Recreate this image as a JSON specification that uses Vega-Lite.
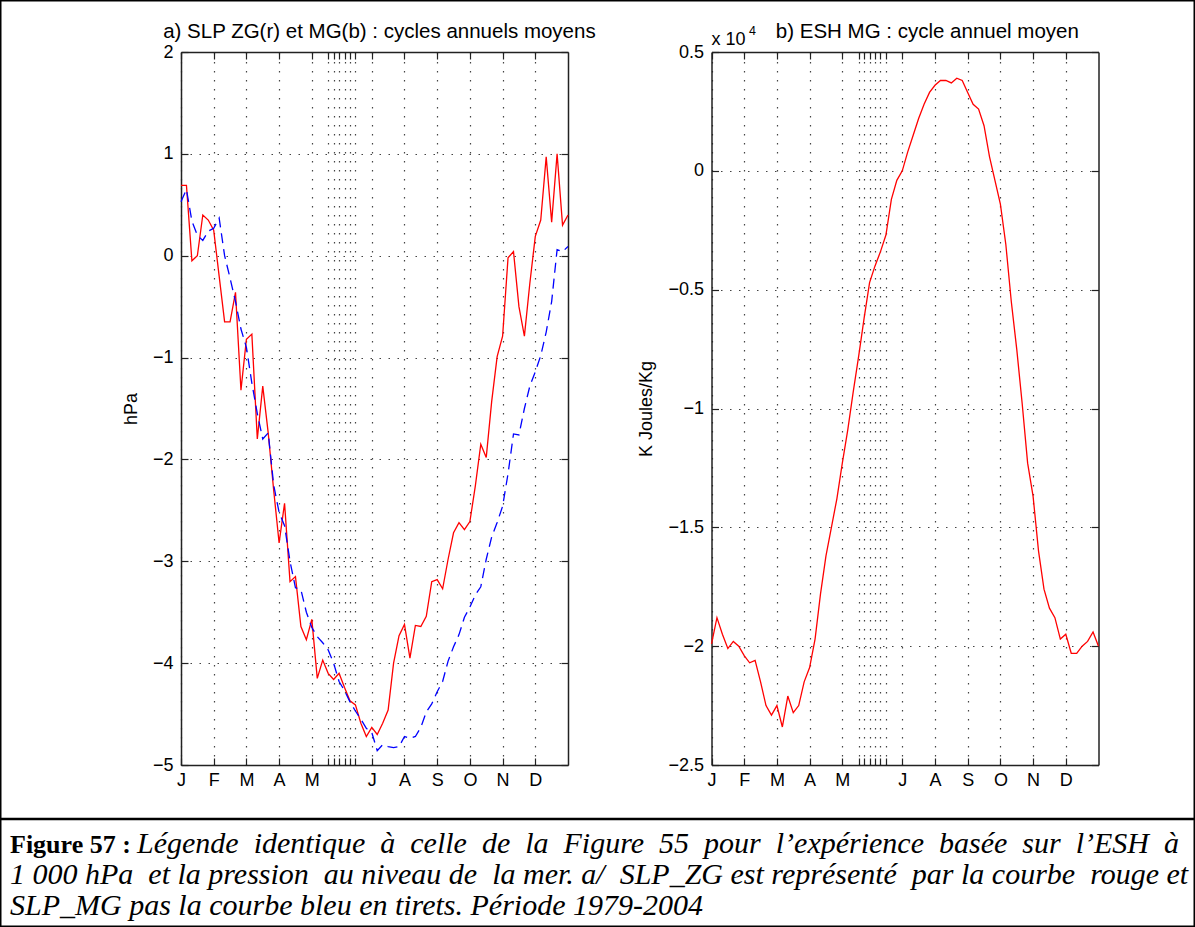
{
  "$schema": "https://vega.github.io/schema/vega-lite/v6.json",
  "width": 1195,
  "height": 927,
  "autosize": "none",
  "padding": 0,
  "background": "white",
  "config": {
    "view": {"stroke": "black", "strokeWidth": 3},
    "axis": {
      "labelFont": "Liberation Sans", "labelFontSize": 18, "labelColor": "black",
      "titleFont": "Liberation Sans", "titleFontSize": 18, "titleFontWeight": "normal", "titleColor": "black",
      "domainColor": "#222", "domainWidth": 1.5, "tickColor": "#222", "tickWidth": 1.2,
      "gridColor": "#444", "gridDash": [1.5, 7.5], "gridWidth": 1.2, "gridOpacity": 1,
      "labelOverlap": false, "labelFlush": false, "labelBound": false
    }
  },
  "datasets": {
    "zg": [
      {"p":0,"v":0.69},{"p":1,"v":0.69},{"p":2,"v":-0.05},{"p":3,"v":0.0},{"p":4,"v":0.40},{"p":5,"v":0.35},{"p":6,"v":0.25},{"p":7,"v":-0.2},{"p":8,"v":-0.65},{"p":9,"v":-0.65},
      {"p":10,"v":-0.36},{"p":11,"v":-1.32},{"p":12,"v":-0.82},{"p":13,"v":-0.77},{"p":14,"v":-1.80},{"p":15,"v":-1.28},{"p":16,"v":-1.74},{"p":17,"v":-2.3},{"p":18,"v":-2.82},{"p":19,"v":-2.43},
      {"p":20,"v":-3.2},{"p":21,"v":-3.15},{"p":22,"v":-3.64},{"p":23,"v":-3.77},{"p":24,"v":-3.57},{"p":25,"v":-4.15},{"p":26,"v":-3.97},{"p":27,"v":-4.10},{"p":28,"v":-4.16},{"p":29,"v":-4.10},
      {"p":30,"v":-4.24},{"p":31,"v":-4.37},{"p":32,"v":-4.41},{"p":33,"v":-4.59},{"p":34,"v":-4.72},{"p":35,"v":-4.63},{"p":36,"v":-4.70},{"p":37,"v":-4.59},{"p":38,"v":-4.46},{"p":39,"v":-4.00},
      {"p":40,"v":-3.73},{"p":41,"v":-3.62},{"p":42,"v":-3.95},{"p":43,"v":-3.63},{"p":44,"v":-3.64},{"p":45,"v":-3.54},{"p":46,"v":-3.20},{"p":47,"v":-3.18},{"p":48,"v":-3.27},{"p":49,"v":-2.98},
      {"p":50,"v":-2.72},{"p":51,"v":-2.62},{"p":52,"v":-2.69},{"p":53,"v":-2.61},{"p":54,"v":-2.26},{"p":55,"v":-1.85},{"p":56,"v":-1.98},{"p":57,"v":-1.43},{"p":58,"v":-0.99},{"p":59,"v":-0.79},
      {"p":60,"v":-0.02},{"p":61,"v":0.04},{"p":62,"v":-0.50},{"p":63,"v":-0.79},{"p":64,"v":-0.27},{"p":65,"v":0.19},{"p":66,"v":0.35},{"p":67,"v":0.97},{"p":68,"v":0.33},{"p":69,"v":1.0},
      {"p":70,"v":0.3},{"p":71,"v":0.4}
    ],
    "mg": [
      {"p":0,"v":0.53},{"p":1,"v":0.65},{"p":2,"v":0.34},{"p":3,"v":0.2},{"p":4,"v":0.15},{"p":5,"v":0.24},{"p":6,"v":0.27},{"p":7,"v":0.37},{"p":8,"v":0.0},{"p":9,"v":-0.22},
      {"p":10,"v":-0.45},{"p":11,"v":-0.72},{"p":12,"v":-0.9},{"p":13,"v":-1.25},{"p":14,"v":-1.55},{"p":15,"v":-1.8},{"p":16,"v":-1.74},{"p":17,"v":-2.25},{"p":18,"v":-2.52},{"p":19,"v":-2.65},
      {"p":20,"v":-3.0},{"p":21,"v":-3.26},{"p":22,"v":-3.28},{"p":23,"v":-3.5},{"p":24,"v":-3.65},{"p":25,"v":-3.74},{"p":26,"v":-3.80},{"p":27,"v":-3.87},{"p":28,"v":-4.0},{"p":29,"v":-4.18},
      {"p":30,"v":-4.27},{"p":31,"v":-4.38},{"p":32,"v":-4.47},{"p":33,"v":-4.55},{"p":34,"v":-4.64},{"p":35,"v":-4.68},{"p":36,"v":-4.86},{"p":37,"v":-4.80},{"p":38,"v":-4.82},{"p":39,"v":-4.83},
      {"p":40,"v":-4.82},{"p":41,"v":-4.72},{"p":42,"v":-4.74},{"p":43,"v":-4.72},{"p":44,"v":-4.63},{"p":45,"v":-4.48},{"p":46,"v":-4.40},{"p":47,"v":-4.28},{"p":48,"v":-4.18},{"p":49,"v":-3.98},
      {"p":50,"v":-3.84},{"p":51,"v":-3.72},{"p":52,"v":-3.55},{"p":53,"v":-3.45},{"p":54,"v":-3.33},{"p":55,"v":-3.25},{"p":56,"v":-2.98},{"p":57,"v":-2.76},{"p":58,"v":-2.62},{"p":59,"v":-2.46},
      {"p":60,"v":-2.14},{"p":61,"v":-1.75},{"p":62,"v":-1.76},{"p":63,"v":-1.5},{"p":64,"v":-1.28},{"p":65,"v":-1.14},{"p":66,"v":-0.98},{"p":67,"v":-0.75},{"p":68,"v":-0.45},{"p":69,"v":0.06},
      {"p":70,"v":0.04},{"p":71,"v":0.09}
    ],
    "esh": [
      {"p":0,"v":-1.99},{"p":1,"v":-1.88},{"p":2,"v":-1.95},{"p":3,"v":-2.01},{"p":4,"v":-1.98},{"p":5,"v":-2.0},{"p":6,"v":-2.04},{"p":7,"v":-2.07},{"p":8,"v":-2.06},{"p":9,"v":-2.15},
      {"p":10,"v":-2.25},{"p":11,"v":-2.29},{"p":12,"v":-2.25},{"p":13,"v":-2.34},{"p":14,"v":-2.21},{"p":15,"v":-2.28},{"p":16,"v":-2.25},{"p":17,"v":-2.15},{"p":18,"v":-2.09},{"p":19,"v":-1.97},
      {"p":20,"v":-1.78},{"p":21,"v":-1.62},{"p":22,"v":-1.50},{"p":23,"v":-1.38},{"p":24,"v":-1.23},{"p":25,"v":-1.09},{"p":26,"v":-0.93},{"p":27,"v":-0.78},{"p":28,"v":-0.62},{"p":29,"v":-0.47},
      {"p":30,"v":-0.40},{"p":31,"v":-0.34},{"p":32,"v":-0.27},{"p":33,"v":-0.12},{"p":34,"v":-0.04},{"p":35,"v":0.0},{"p":36,"v":0.08},{"p":37,"v":0.15},{"p":38,"v":0.22},{"p":39,"v":0.28},
      {"p":40,"v":0.33},{"p":41,"v":0.36},{"p":42,"v":0.38},{"p":43,"v":0.38},{"p":44,"v":0.37},{"p":45,"v":0.39},{"p":46,"v":0.38},{"p":47,"v":0.33},{"p":48,"v":0.28},{"p":49,"v":0.26},
      {"p":50,"v":0.19},{"p":51,"v":0.06},{"p":52,"v":-0.04},{"p":53,"v":-0.14},{"p":54,"v":-0.31},{"p":55,"v":-0.55},{"p":56,"v":-0.75},{"p":57,"v":-0.98},{"p":58,"v":-1.23},{"p":59,"v":-1.37},
      {"p":60,"v":-1.60},{"p":61,"v":-1.76},{"p":62,"v":-1.84},{"p":63,"v":-1.88},{"p":64,"v":-1.97},{"p":65,"v":-1.95},{"p":66,"v":-2.03},{"p":67,"v":-2.03},{"p":68,"v":-2.00},{"p":69,"v":-1.98},
      {"p":70,"v":-1.94},{"p":71,"v":-2.0}
    ],
    "caption": [
      {"row": 1, "part": "b", "text": "Figure 57 :"},
      {"row": 1, "part": "i1", "text": "Légende\u00a0 identique\u00a0 à\u00a0 celle\u00a0 de\u00a0 la\u00a0 Figure\u00a0 55\u00a0 pour\u00a0 l’expérience\u00a0 basée\u00a0 sur\u00a0 l’ESH\u00a0 à"},
      {"row": 2, "part": "i", "text": "1 000 hPa\u00a0 et la pression\u00a0 au niveau de\u00a0 la mer. a/\u00a0 SLP_ZG est représenté\u00a0 par la courbe\u00a0 rouge et"},
      {"row": 3, "part": "i", "text": "SLP_MG pas la courbe bleu en tirets. Période 1979-2004"}
    ],
    "one": [{"k": 1}]
  },
  "resolve": {"scale": {"x": "independent", "y": "independent"}, "axis": {"x": "independent", "y": "independent"}},
  "layer": [
    {
      "resolve": {"axis": {"x": "independent", "y": "independent"}},
      "layer": [
        {
          "data": {"name": "zg"},
          "mark": {"type": "line", "color": "#ff0000", "strokeWidth": 1.3},
          "encoding": {
            "x": {"field": "p", "type": "quantitative",
              "scale": {"domain": [0, 71], "range": [181, 568], "nice": false, "zero": false},
              "axis": {"orient": "bottom", "offset": -162, "values": [0,6,12,18,24,27,28,29,30,31,32,35,41,47,53,59,65],
                "labelExpr": "datum.value == 0 ? 'J' : datum.value == 6 ? 'F' : datum.value == 12 ? 'M' : datum.value == 18 ? 'A' : datum.value == 24 ? 'M' : datum.value == 35 ? 'J' : datum.value == 41 ? 'A' : datum.value == 47 ? 'S' : datum.value == 53 ? 'O' : datum.value == 59 ? 'N' : datum.value == 65 ? 'D' : ''",
                "title": null, "grid": false, "tickSize": -7, "labelPadding": 13, "labelAngle": 0, "labelAlign": "center", "labelBaseline": "top"}},
            "y": {"field": "v", "type": "quantitative",
              "scale": {"domain": [-5, 2], "range": [765, 52], "nice": false, "zero": false},
              "axis": {"orient": "left", "offset": -181, "values": [-5,-4,-3,-2,-1,0,1,2], "format": "d",
                "title": "hPa", "titlePadding": 12, "grid": true, "tickSize": -7, "labelPadding": 15}}
          }
        },
        {
          "data": {"name": "mg"},
          "mark": {"type": "line", "color": "#0000ff", "strokeWidth": 1.3, "strokeDash": [10, 6]},
          "encoding": {
            "x": {"field": "p", "type": "quantitative",
              "scale": {"domain": [0, 71], "range": [181, 568], "nice": false, "zero": false},
              "axis": {"orient": "top", "offset": -52, "values": [0,6,12,18,24,27,28,29,30,31,32,35,41,47,53,59,65],
                "labels": false, "title": null, "grid": true, "tickSize": -7}},
            "y": {"field": "v", "type": "quantitative",
              "scale": {"domain": [-5, 2], "range": [765, 52], "nice": false, "zero": false},
              "axis": {"orient": "right", "offset": -627, "values": [-5,-4,-3,-2,-1,0,1,2],
                "labels": false, "title": null, "grid": false, "tickSize": -7}}
          }
        },
        {
          "data": {"name": "one"},
          "mark": {"type": "text", "font": "Liberation Sans", "fontSize": 20.5, "align": "center", "baseline": "alphabetic", "dy": -14, "color": "black"},
          "encoding": {
            "x": {"datum": 36.4, "type": "quantitative", "axis": null},
            "y": {"datum": 2, "type": "quantitative", "axis": null},
            "text": {"value": "a) SLP ZG(r) et MG(b) : cycles annuels moyens"}
          }
        }
      ]
    },
    {
      "resolve": {"axis": {"x": "independent", "y": "independent"}},
      "layer": [
        {
          "data": {"name": "esh"},
          "mark": {"type": "line", "color": "#ff0000", "strokeWidth": 1.3},
          "encoding": {
            "x": {"field": "p", "type": "quantitative",
              "scale": {"domain": [0, 71], "range": [711.5, 1098.5], "nice": false, "zero": false},
              "axis": {"orient": "bottom", "offset": -162, "values": [0,6,12,18,24,27,28,29,30,31,32,35,41,47,53,59,65],
                "labelExpr": "datum.value == 0 ? 'J' : datum.value == 6 ? 'F' : datum.value == 12 ? 'M' : datum.value == 18 ? 'A' : datum.value == 24 ? 'M' : datum.value == 35 ? 'J' : datum.value == 41 ? 'A' : datum.value == 47 ? 'S' : datum.value == 53 ? 'O' : datum.value == 59 ? 'N' : datum.value == 65 ? 'D' : ''",
                "title": null, "grid": false, "tickSize": -7, "labelPadding": 13, "labelAngle": 0, "labelAlign": "center", "labelBaseline": "top"}},
            "y": {"field": "v", "type": "quantitative",
              "scale": {"domain": [-2.5, 0.5], "range": [765, 52], "nice": false, "zero": false},
              "axis": {"orient": "left", "offset": -711.5, "values": [-2.5,-2,-1.5,-1,-0.5,0,0.5], "format": "~g",
                "title": "K Joules/Kg", "titlePadding": 12, "grid": true, "tickSize": -7, "labelPadding": 15}}
          }
        },
        {
          "data": {"name": "one"},
          "mark": {"type": "text", "font": "Liberation Sans", "fontSize": 20.5, "align": "center", "baseline": "alphabetic", "dy": -14, "color": "black"},
          "encoding": {
            "x": {"datum": 39.6, "type": "quantitative",
              "scale": {"domain": [0, 71], "range": [711.5, 1098.5], "nice": false, "zero": false},
              "axis": {"orient": "top", "offset": -52, "values": [0,6,12,18,24,27,28,29,30,31,32,35,41,47,53,59,65],
                "labels": false, "title": null, "grid": true, "tickSize": -7}},
            "y": {"datum": 0.5, "type": "quantitative",
              "scale": {"domain": [-2.5, 0.5], "range": [765, 52], "nice": false, "zero": false},
              "axis": {"orient": "right", "offset": -96.5, "values": [-2.5,-2,-1.5,-1,-0.5,0,0.5],
                "labels": false, "title": null, "grid": false, "tickSize": -7}},
            "text": {"value": "b) ESH MG : cycle annuel moyen"}
          }
        },
        {
          "data": {"name": "one"},
          "mark": {"type": "text", "font": "Liberation Sans", "fontSize": 18, "align": "left", "baseline": "alphabetic", "dy": -7, "color": "black"},
          "encoding": {
            "x": {"datum": 0, "type": "quantitative", "axis": null},
            "y": {"datum": 0.5, "type": "quantitative", "axis": null},
            "text": {"value": "x 10"}
          }
        },
        {
          "data": {"name": "one"},
          "mark": {"type": "text", "font": "Liberation Sans", "fontSize": 12.5, "align": "left", "baseline": "alphabetic", "dx": 37.5, "dy": -17, "color": "black"},
          "encoding": {
            "x": {"datum": 0, "type": "quantitative", "axis": null},
            "y": {"datum": 0.5, "type": "quantitative", "axis": null},
            "text": {"value": "4"}
          }
        }
      ]
    },
    {
      "layer": [
        {
          "data": {"name": "one"},
          "mark": {"type": "rule", "color": "black", "strokeWidth": 2.5},
          "encoding": {
            "y": {"datum": 0, "type": "quantitative", "scale": {"domain": [0, 3], "range": [819, 912], "nice": false, "zero": false}, "axis": null}
          }
        },
        {
          "data": {"name": "caption"},
          "transform": [{"filter": "datum.part == 'b'"}],
          "mark": {"type": "text", "font": "Liberation Serif", "fontSize": 26, "fontWeight": "bold", "align": "left", "baseline": "alphabetic", "dy": 3, "color": "black"},
          "encoding": {
            "x": {"datum": 0, "type": "quantitative", "scale": {"domain": [0, 1], "range": [10, 1185], "nice": false, "zero": false}, "axis": null},
            "y": {"field": "row", "type": "quantitative", "scale": {"domain": [0, 3], "range": [819, 912], "nice": false, "zero": false}, "axis": null},
            "text": {"field": "text"}
          }
        },
        {
          "data": {"name": "caption"},
          "transform": [{"filter": "datum.part == 'i1'"}],
          "mark": {"type": "text", "font": "Liberation Serif", "fontSize": 30, "fontStyle": "italic", "align": "left", "baseline": "alphabetic", "dx": 127, "dy": 3, "color": "black"},
          "encoding": {
            "x": {"datum": 0, "type": "quantitative", "scale": {"domain": [0, 1], "range": [10, 1185], "nice": false, "zero": false}, "axis": null},
            "y": {"field": "row", "type": "quantitative", "scale": {"domain": [0, 3], "range": [819, 912], "nice": false, "zero": false}, "axis": null},
            "text": {"field": "text"}
          }
        },
        {
          "data": {"name": "caption"},
          "transform": [{"filter": "datum.part == 'i'"}],
          "mark": {"type": "text", "font": "Liberation Serif", "fontSize": 30, "fontStyle": "italic", "align": "left", "baseline": "alphabetic", "dy": 3, "color": "black"},
          "encoding": {
            "x": {"datum": 0, "type": "quantitative", "scale": {"domain": [0, 1], "range": [10, 1185], "nice": false, "zero": false}, "axis": null},
            "y": {"field": "row", "type": "quantitative", "scale": {"domain": [0, 3], "range": [819, 912], "nice": false, "zero": false}, "axis": null},
            "text": {"field": "text"}
          }
        }
      ]
    }
  ]
}
